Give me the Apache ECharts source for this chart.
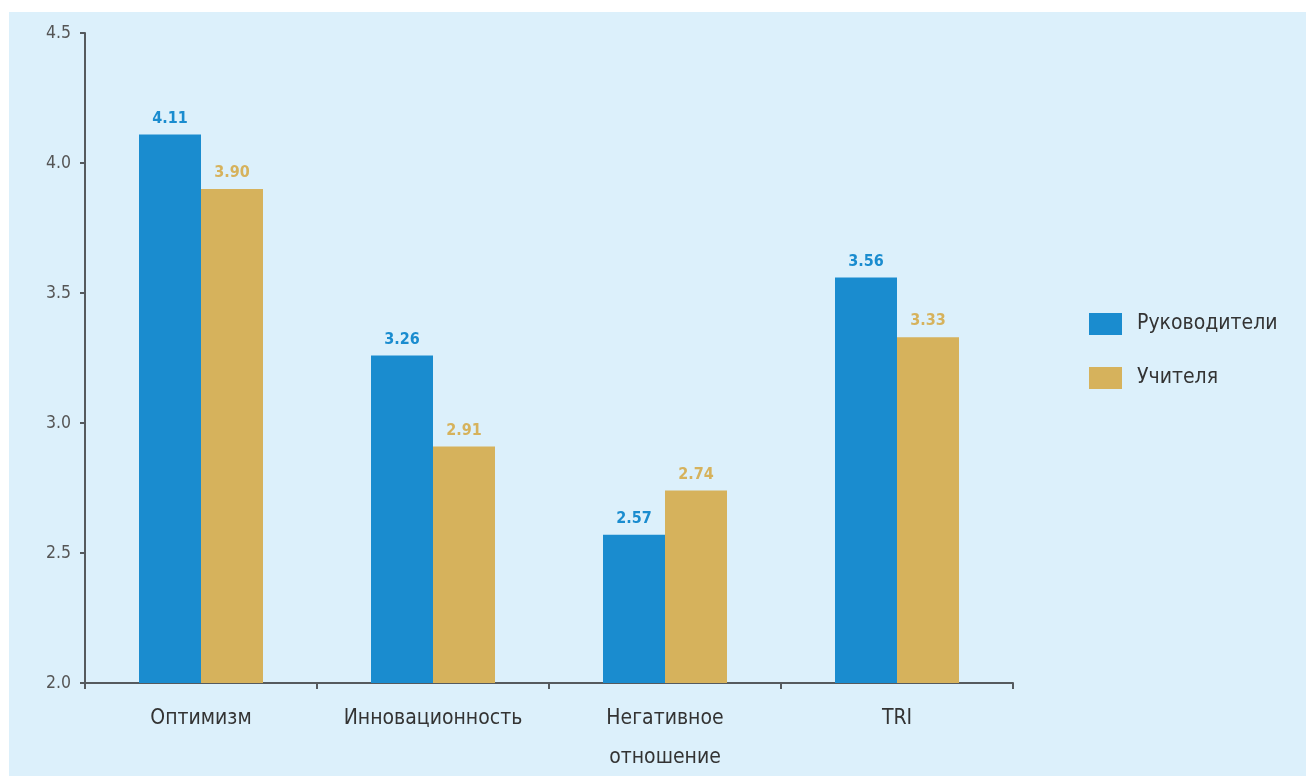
<!DOCTYPE html>
<html>
<head>
<meta charset="utf-8">
<script src="https://cdn.jsdelivr.net/npm/echarts@6/dist/echarts.min.js"></script>
<style>
  html, body { margin: 0; padding: 0; background: #ffffff; }
  #chart { width: 1306px; height: 776px; }
</style>
</head>
<body>
<div id="chart"></div>
<script>
// Indicator categories (x axis)
const categories = ['Оптимизм', 'Инновационность', 'Негативное\nотношение', 'TRI'];
// Mean scores per group
const managers = [4.11, 3.26, 2.57, 3.56];
const teachers = [3.90, 2.91, 2.74, 3.33];
const seriesNames = ['Руководители', 'Учителя'];
// Y axis range and step
const yMin = 2.0, yMax = 4.5, yStep = 0.5;

const BLUE = '#1a8ccf';
const GOLD = '#d6b25c';
const FONT = '"DejaVu Sans Condensed", "Liberation Sans Narrow", "Liberation Sans", sans-serif';

const chart = echarts.init(document.getElementById('chart'), null, { renderer: 'canvas' });

const labelStyle = (color) => ({
  show: true,
  position: 'top',
  distance: 8,
  color: color,
  fontFamily: FONT,
  fontWeight: 'bold',
  fontSize: 16,
  formatter: (p) => p.value.toFixed(2)
});

chart.setOption({
  backgroundColor: '#ffffff',
  animation: false,
  graphic: [{
    type: 'rect',
    z: -10,
    shape: { x: 9, y: 12, width: 1297, height: 764 },
    style: { fill: '#dcf0fb' }
  }],
  grid: { left: 85, top: 33, width: 928, height: 650, containLabel: false, outerBoundsMode: 'none' },
  legend: {
    orient: 'vertical',
    left: 1089,
    top: 313,
    padding: 0,
    itemWidth: 33,
    itemHeight: 22,
    itemGap: 32,
    icon: 'rect',
    textStyle: { fontFamily: FONT, fontSize: 21, color: '#333333', padding: [0, 0, 0, 10] },
    data: seriesNames
  },
  xAxis: {
    type: 'category',
    data: categories,
    axisLine: { lineStyle: { color: '#555a5e', width: 2 } },
    axisTick: { show: true, interval: 0, length: 6, lineStyle: { color: '#555a5e', width: 2 } },
    axisLabel: { interval: 0, hideOverlap: false, fontFamily: FONT, fontSize: 21, color: '#333333', margin: 16, lineHeight: 39 }
  },
  yAxis: {
    type: 'value',
    min: yMin,
    max: yMax,
    interval: yStep,
    axisLine: { show: true, lineStyle: { color: '#555a5e', width: 2 } },
    axisTick: { show: true, length: 5, lineStyle: { color: '#555a5e', width: 2 } },
    splitLine: { show: false },
    axisLabel: { fontFamily: FONT, fontSize: 17.5, color: '#555555', margin: 14, formatter: (v) => v.toFixed(1) }
  },
  series: [
    {
      name: seriesNames[0],
      type: 'bar',
      data: managers,
      barWidth: 62,
      barGap: '0%',
      itemStyle: { color: BLUE },
      label: labelStyle(BLUE)
    },
    {
      name: seriesNames[1],
      type: 'bar',
      data: teachers,
      barWidth: 62,
      barGap: '0%',
      itemStyle: { color: GOLD },
      label: labelStyle(GOLD)
    }
  ]
});
</script>
</body>
</html>
